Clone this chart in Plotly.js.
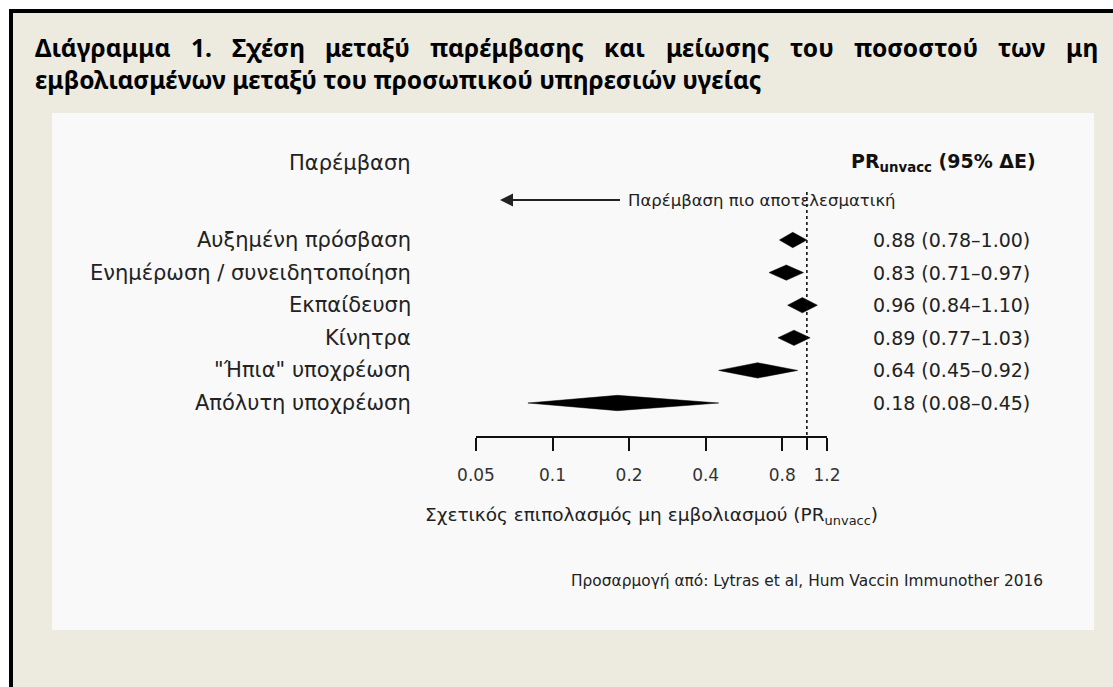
<!DOCTYPE html>
<html><head><meta charset="utf-8">
<script src="https://cdn.plot.ly/plotly-3.0.1.min.js"></script>
<style>html,body{margin:0;padding:0;background:#fff;} #chart{width:1113px;height:687px;}</style>
</head><body><div id="chart"></div>
<script>
// ---- data ----
const categories = ["Αυξημένη πρόσβαση","Ενημέρωση / συνειδητοποίηση","Εκπαίδευση","Κίνητρα","\"Ήπια\" υποχρέωση","Απόλυτη υποχρέωση"];
const prValues = [0.88, 0.83, 0.96, 0.89, 0.64, 0.18];
const ciLower  = [0.78, 0.71, 0.84, 0.77, 0.45, 0.08];
const ciUpper  = [1.00, 0.97, 1.10, 1.03, 0.92, 0.45];
const tickValues = [0.05, 0.1, 0.2, 0.4, 0.8, 1.2];
const tickLabels = ["0.05", "0.1", "0.2", "0.4", "0.8", "1.2"];
const nullValue = 1;
const titleLine1 = ["Διάγραμμα","1.","Σχέση","μεταξύ","παρέμβασης","και","μείωσης","του","ποσοστού","των","μη"];
const titleLine2 = "εμβολιασμένων μεταξύ του προσωπικού υπηρεσιών υγείας";
const headerLeft = "Παρέμβαση";
const headerRight = "<b>PR<sub>unvacc</sub> (95% ΔΕ)</b>";
const arrowText = "Παρέμβαση πιο αποτελεσματική";
const axisTitle = "Σχετικός επιπολασμός μη εμβολιασμού (PR<sub>unvacc</sub>)";
const sourceText = "Προσαρμογή από: Lytras et al, Hum Vaccin Immunother 2016";

// ---- layout geometry (pixels) ----
const W = 1113, H = 687;
const L = 476, R = 827, T = 190, B = 436;
const PW = R - L, PH = B - T;
const rowTop = 240, rowStep = 32.6;
const px = x => (x - L) / PW;          // pixel x -> paper
const py = y => (B - y) / PH;          // pixel y -> paper
const ry = y => (y - rowTop) / rowStep; // pixel y -> row units

const chartFont = "DejaVu Sans";
const titleFont = "Noto Sans";
const titleSize = 24.5;
const textCol = "#222";

const traces = [];
const dh = 0.235;
categories.forEach((c, i) => {
  traces.push({
    type: "scatter", mode: "lines",
    x: [ciLower[i], prValues[i], ciUpper[i], prValues[i], ciLower[i]],
    y: [i, i - dh, i, i + dh, i],
    fill: "toself", fillcolor: "#000",
    line: {color: "#000", width: 0.5},
    hoverinfo: "skip", showlegend: false, cliponaxis: false
  });
});
traces.push({
  type: "scatter", mode: "lines",
  x: [nullValue, nullValue], y: [ry(192), ry(B)],
  line: {color: "#111", width: 1.6, dash: "dot"},
  hoverinfo: "skip", showlegend: false, cliponaxis: false
});

const ann = [];
const labelFont = {family: chartFont, size: 21, color: textCol};
const valueFont = {family: chartFont, size: 19, color: textCol};
categories.forEach((c, i) => {
  ann.push({xref: "paper", yref: "y", x: px(412), y: i, xanchor: "right", yanchor: "middle",
            text: c, showarrow: false, font: labelFont, borderpad: 0});
  const lbl = prValues[i].toFixed(2) + " (" + ciLower[i].toFixed(2) + "–" + ciUpper[i].toFixed(2) + ")";
  ann.push({xref: "paper", yref: "y", x: px(872), y: i, xanchor: "left", yanchor: "middle",
            text: lbl, showarrow: false, font: valueFont, borderpad: 0});
});
ann.push({xref: "paper", yref: "paper", x: px(412), y: py(163), xanchor: "right", yanchor: "middle",
          text: headerLeft, showarrow: false, font: labelFont, borderpad: 0});
ann.push({xref: "paper", yref: "paper", x: px(1037), y: py(163), xanchor: "right", yanchor: "middle",
          text: headerRight, showarrow: false, font: {family: chartFont, size: 19, color: "#111"}, borderpad: 0});
// arrow with its label at the tail
ann.push({xref: "paper", yref: "y", x: px(500), y: ry(200), ax: 120, ay: 0,
          xanchor: "left", yanchor: "middle", borderpad: 7,
          text: arrowText, font: {family: chartFont, size: 16.5, color: textCol},
          showarrow: true, arrowhead: 2, arrowsize: 1.3, arrowwidth: 2, arrowcolor: "#222"});
ann.push({xref: "paper", yref: "paper", x: 0.5, y: py(516), xanchor: "center", yanchor: "middle",
          text: axisTitle, showarrow: false, font: {family: chartFont, size: 18.5, color: textCol}, borderpad: 0});
ann.push({xref: "paper", yref: "paper", x: px(570), y: py(581), xanchor: "left", yanchor: "middle",
          text: sourceText, showarrow: false, font: {family: chartFont, size: 15.4, color: textCol}, borderpad: 0});

// justified first title line
const cv = document.createElement("canvas").getContext("2d");
cv.font = "bold " + titleSize + "px '" + titleFont + "'";
const widths = titleLine1.map(w => cv.measureText(w).width);
const total = widths.reduce((a, b) => a + b, 0);
const gap = (1097 - 34 - total) / (titleLine1.length - 1);
let cx = 34;
titleLine1.forEach((w, k) => {
  ann.push({xref: "paper", yref: "paper", x: px(cx), y: py(47), xanchor: "left", yanchor: "middle",
            text: "<b>" + w + "</b>", showarrow: false, borderpad: 0,
            font: {family: titleFont, size: titleSize, color: "#000"}});
  cx += widths[k] + gap;
});
ann.push({xref: "paper", yref: "paper", x: px(34), y: py(80), xanchor: "left", yanchor: "middle",
          text: "<b>" + titleLine2 + "</b>", showarrow: false, borderpad: 0,
          font: {family: titleFont, size: titleSize, color: "#000"}});

const shapes = [
  {type: "rect", xref: "paper", yref: "paper", x0: px(9), x1: px(W + 5), y0: py(9), y1: py(H + 5),
   fillcolor: "#EDEAE0", line: {width: 0}, layer: "below"},
  {type: "rect", xref: "paper", yref: "paper", x0: px(52), x1: px(1094), y0: py(113), y1: py(630),
   fillcolor: "#F9F9F9", line: {width: 0}, layer: "below"},
  {type: "line", xref: "paper", yref: "paper", x0: px(9), x1: px(W + 5), y0: py(11), y1: py(11),
   line: {color: "#000", width: 4}, layer: "below"},
  {type: "line", xref: "paper", yref: "paper", x0: px(11), x1: px(11), y0: py(9), y1: py(H + 5),
   line: {color: "#000", width: 4}, layer: "below"}
];

const xRange = [Math.log10(0.05), Math.log10(1.2)];
const layout = {
  width: W, height: H,
  margin: {l: L, r: W - R, t: T, b: H - B, pad: 0},
  paper_bgcolor: "#fff", plot_bgcolor: "rgba(0,0,0,0)",
  showlegend: false,
  xaxis: {
    type: "log", range: xRange,
    tickmode: "array", tickvals: tickValues, ticktext: tickLabels,
    ticks: "outside", ticklen: 13, tickwidth: 2, tickcolor: "#111",
    showline: true, linecolor: "#111", linewidth: 2,
    showgrid: false, zeroline: false, fixedrange: true,
    tickfont: {family: chartFont, size: 17, color: "#333"}, ticklabelstandoff: 10
  },
  xaxis2: {
    type: "log", range: xRange, overlaying: "x", anchor: "y", side: "bottom",
    tickmode: "array", tickvals: [nullValue], showticklabels: false,
    ticks: "outside", ticklen: 13, tickwidth: 2, tickcolor: "#111",
    showline: false, showgrid: false, zeroline: false, fixedrange: true
  },
  yaxis: {
    range: [ry(B), ry(T)], visible: false, showgrid: false, zeroline: false, fixedrange: true
  },
  annotations: ann,
  shapes: shapes
};

traces.push({type: "scatter", mode: "lines", x: [], y: [], xaxis: "x2", yaxis: "y",
             hoverinfo: "skip", showlegend: false});

Plotly.newPlot("chart", traces, layout, {displayModeBar: false, staticPlot: true});
</script>
</body></html>
